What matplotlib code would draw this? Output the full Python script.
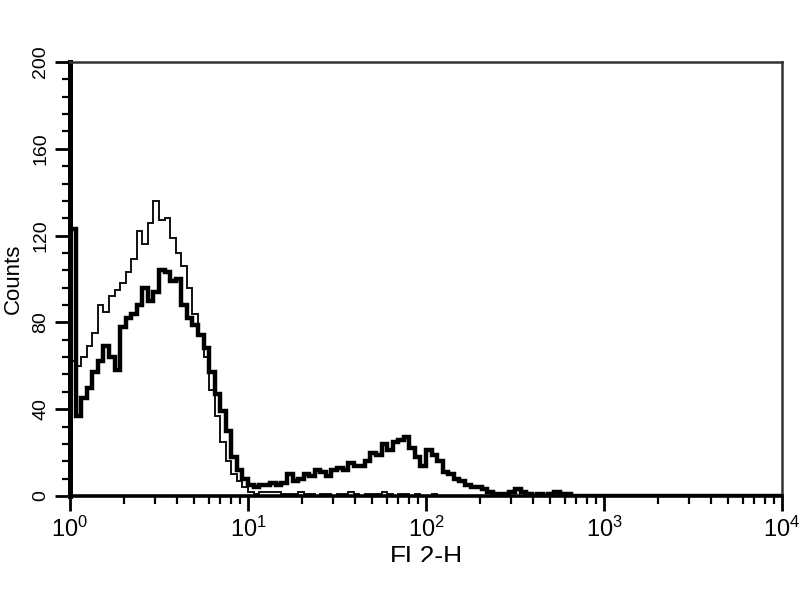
import numpy as np
import matplotlib
matplotlib.use("Agg")
import matplotlib.pyplot as plt
from matplotlib import font_manager
from matplotlib.ticker import FixedLocator, MultipleLocator, NullFormatter
from matplotlib.patches import Rectangle

names = {f.name for f in font_manager.fontManager.ttflist}
NARROW = "Liberation Sans Narrow" if "Liberation Sans Narrow" in names else "Liberation Sans"
SANS = "Liberation Sans" if "Liberation Sans" in names else "DejaVu Sans"

plt.rcParams["mathtext.fontset"] = "custom"
plt.rcParams["mathtext.rm"] = NARROW
plt.rcParams["mathtext.it"] = NARROW
plt.rcParams["mathtext.bf"] = NARROW

# ---- data: 128 log-spaced channels from 10^0 to 10^4 ----
n_channels = 128
decade_min, decade_max = 0, 4

stained = [123, 37, 45, 50, 57, 62, 69, 64, 58, 78, 82, 84, 88, 96, 90, 94,
           104, 103, 99, 100, 88, 82, 79, 74, 68, 57, 47, 39, 30, 18, 12, 8,
           5, 4, 5, 5, 6, 5, 6, 10, 7, 8, 10, 9, 12, 11, 9, 12,
           13, 12, 15, 14, 14, 16, 20, 19, 24, 21, 25, 26, 27, 22, 18, 14,
           21, 19, 16, 11, 10, 8, 7, 5, 4, 4, 3, 2, 1, 1, 1, 2,
           3, 2, 1, 0, 1, 0, 1, 2, 1, 1, 0, 0, 0, 0, 0, 0,
           0, 0, 0, 0, 0, 0, 0, 0, 0, 0, 0, 0, 0, 0, 0, 0,
           0, 0, 0, 0, 0, 0, 0, 0, 0, 0, 0, 0, 0, 0, 0, 0]

control = [62, 60, 64, 69, 75, 88, 85, 92, 95, 98, 103, 109, 122, 116, 126, 136,
           127, 128, 119, 112, 106, 96, 84, 74, 64, 49, 37, 25, 16, 10, 7, 4,
           2, 1, 2, 2, 2, 2, 1, 1, 1, 2, 1, 1, 0, 1, 1, 0,
           1, 1, 2, 1, 0, 1, 1, 1, 2, 1, 0, 1, 1, 0, 1, 0,
           0, 1, 0, 0, 0, 0, 0, 0, 0, 0, 0, 0, 0, 0, 0, 0,
           0, 0, 0, 0, 0, 0, 0, 0, 0, 0, 0, 0, 0, 0, 0, 0,
           0, 0, 0, 0, 0, 0, 0, 0, 0, 0, 0, 0, 0, 0, 0, 0,
           0, 0, 0, 0, 0, 0, 0, 0, 0, 0, 0, 0, 0, 0, 0, 0]

x_major = [1, 10, 100, 1000, 10000]
x_labels = [r"$\mathregular{10^{0}}$", r"$\mathregular{10^{1}}$", r"$\mathregular{10^{2}}$",
            r"$\mathregular{10^{3}}$", r"$\mathregular{10^{4}}$"]
y_major = [0, 40, 80, 120, 160, 200]

edges = np.logspace(decade_min, decade_max, n_channels + 1)

fig = plt.figure(figsize=(8, 6), dpi=100)
ax = fig.add_axes([70 / 800, 104 / 600, 712 / 800, 434 / 600])

ax.stairs(control, edges, color="#111111", linewidth=1.4, baseline=None)
ax.stairs(stained, edges, color="black", linewidth=3.2, baseline=None)

ax.set_xscale("log")
ax.set_xlim(1, 1e4)
ax.set_ylim(0, 200)

ax.xaxis.set_major_locator(FixedLocator(x_major))
ax.set_xticklabels(x_labels, fontsize=17, family=NARROW)
ax.xaxis.set_minor_locator(FixedLocator([m * d for d in [1, 10, 100, 1000] for m in range(2, 10)]))
ax.xaxis.set_minor_formatter(NullFormatter())

ax.yaxis.set_major_locator(FixedLocator(y_major))
ax.set_yticklabels([str(v) for v in y_major], fontsize=14, family=SANS,
                   rotation=90, va="center")
ax.yaxis.set_minor_locator(MultipleLocator(8))

ax.tick_params(axis="x", which="major", direction="out", length=11, width=2, pad=4)
ax.tick_params(axis="x", which="minor", direction="out", length=6, width=1.6)
ax.tick_params(axis="y", which="major", direction="out", length=11, width=2, pad=4)
ax.tick_params(axis="y", which="minor", direction="out", length=6, width=1.6)
ax.tick_params(top=False, right=False, which="both")

ax.spines["left"].set_linewidth(3.6)
ax.spines["bottom"].set_linewidth(2.6)
ax.spines["top"].set_linewidth(1.8)
ax.spines["right"].set_linewidth(1.8)
ax.spines["top"].set_color("#333333")
ax.spines["right"].set_color("#333333")

ax.set_ylabel("Counts", fontsize=16, family=SANS, ha="center", va="center")
ax.yaxis.set_label_coords((13 - 70) / 712, 0.5)
ax.set_xlabel("FL2-H", fontsize=19, family=NARROW, labelpad=2)

fig.patches.append(Rectangle((0, 0), 1, 38 / 600, transform=fig.transFigure,
                             facecolor="white", edgecolor="none", zorder=10))

fig.savefig("out.png", dpi=100, facecolor="white")
